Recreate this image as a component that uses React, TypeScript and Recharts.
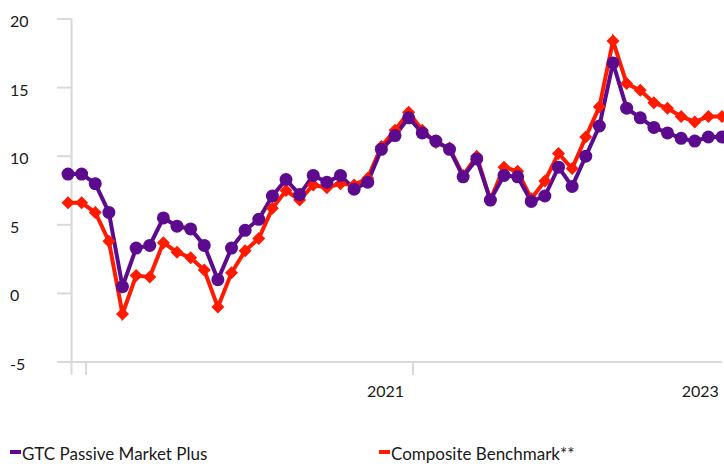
import React from "react";
import { LineChart, Line, XAxis, YAxis, ReferenceLine, Legend } from "recharts";

// monthly observations, Nov 2018 .. Nov 2022
const months = [
  "2018-11", "2018-12",
  "2019-01", "2019-02", "2019-03", "2019-04", "2019-05", "2019-06",
  "2019-07", "2019-08", "2019-09", "2019-10", "2019-11", "2019-12",
  "2020-01", "2020-02", "2020-03", "2020-04", "2020-05", "2020-06",
  "2020-07", "2020-08", "2020-09", "2020-10", "2020-11", "2020-12",
  "2021-01", "2021-02", "2021-03", "2021-04", "2021-05", "2021-06",
  "2021-07", "2021-08", "2021-09", "2021-10", "2021-11", "2021-12",
  "2022-01", "2022-02", "2022-03", "2022-04", "2022-05", "2022-06",
  "2022-07", "2022-08", "2022-09", "2022-10", "2022-11",
];

const gtcPassive = [
  8.7, 8.7, 8.0, 5.9, 0.5, 3.3, 3.5, 5.5, 4.9, 4.7,
  3.5, 1.0, 3.3, 4.6, 5.4, 7.1, 8.3, 7.2, 8.6, 8.1,
  8.6, 7.6, 8.1, 10.5, 11.5, 12.8, 11.7, 11.1, 10.5, 8.5,
  9.8, 6.8, 8.6, 8.5, 6.7, 7.1, 9.2, 7.8, 10.0, 12.2,
  16.8, 13.5, 12.8, 12.1, 11.7, 11.3, 11.1, 11.4, 11.4,
];

const compositeBenchmark = [
  6.6, 6.6, 5.9, 3.8, -1.5, 1.3, 1.2, 3.7, 3.0, 2.6,
  1.7, -1.0, 1.5, 3.1, 4.0, 6.2, 7.5, 6.8, 7.9, 7.7,
  8.0, 7.9, 8.4, 10.7, 11.9, 13.2, 11.9, 11.0, 10.6, 8.6,
  10.0, 6.8, 9.2, 8.9, 6.9, 8.2, 10.2, 9.1, 11.4, 13.6,
  18.4, 15.3, 14.8, 13.9, 13.5, 12.9, 12.5, 12.9, 12.9,
];

const yTicks = [-5, 0, 5, 10, 15, 20];
const yearLabels = ["2021", "2023"];
const seriesNames = ["GTC Passive Market Plus", "Composite Benchmark**"];

const PURPLE = "#5c0b8f";
const RED = "#ff1a00";
const GRID = "#d9d9d9";
const TEXT = "#1a1a1a";
const FONT = "Lato, sans-serif";

// excel-style axis: tick marks sit between months, labels drift left of them
const axisStart = 0.26;
const yearMarks = [axisStart, 1.32, 25.32];
const yearLabelPos = [23.3, 46.4];

const data = months.map((m, i) => ({
  i,
  month: m,
  gtc: gtcPassive[i],
  bench: compositeBenchmark[i],
}));

function YTick(props: any) {
  const { x, y, payload } = props;
  return (
    <g>
      <line x1={x - 11} x2={x + 3.5} y1={y} y2={y} stroke={GRID} strokeWidth={2} />
      <text x={10} y={y} dy={8} textAnchor="start" fill={TEXT} fontSize={16} fontFamily={FONT}>
        {payload.value}
      </text>
    </g>
  );
}

function XTick(props: any) {
  const { x, y, payload } = props;
  const li = yearLabelPos.indexOf(payload.value);
  if (li >= 0) {
    return (
      <text x={x} y={y + 35} textAnchor="middle" fill={TEXT} fontSize={16} fontFamily={FONT}>
        {yearLabels[li]}
      </text>
    );
  }
  return <line x1={x} x2={x} y1={y} y2={y + 13} stroke={GRID} strokeWidth={2} />;
}

function Diamond(props: any) {
  const { cx, cy, index } = props;
  const s = 6.5;
  return (
    <polygon
      key={"d" + index}
      points={`${cx},${cy - s} ${cx + s},${cy} ${cx},${cy + s} ${cx - s},${cy}`}
      fill={RED}
    />
  );
}

function LegendBox() {
  const item = (left: number, color: string, label: string) => (
    <>
      <span style={{ position: "absolute", left, top: 10, width: 11, height: 4, background: color }} />
      <span style={{ position: "absolute", left: left + 12, top: 5, lineHeight: "17px", whiteSpace: "nowrap" }}>
        {label}
      </span>
    </>
  );
  return (
    <div
      style={{
        position: "relative",
        width: 724,
        height: 24,
        overflow: "hidden",
        fontFamily: FONT,
        fontSize: 17,
        color: TEXT,
      }}
    >
      {item(10, PURPLE, seriesNames[0])}
      {item(379, RED, seriesNames[1])}
    </div>
  );
}

export default function App() {
  return (
    <div style={{ position: "absolute", left: 0, top: 0 }}>
      <LineChart width={724} height={464} data={data} margin={{ top: 19, right: 2, left: 0, bottom: 0 }}>
        <XAxis
          type="number"
          dataKey="i"
          domain={[0, 48]}
          ticks={[...yearMarks, ...yearLabelPos]}
          interval={0}
          height={78}
          tickSize={0}
          tickMargin={0}
          tickLine={false}
          axisLine={{ stroke: GRID, strokeWidth: 2 }}
          tick={<XTick />}
        />
        <YAxis
          domain={[-5, 20]}
          ticks={yTicks}
          interval={0}
          width={68}
          tickSize={0}
          tickMargin={0}
          tickLine={false}
          axisLine={false}
          tick={<YTick />}
        />
        <ReferenceLine x={axisStart} stroke={GRID} strokeWidth={2} />
        <Legend verticalAlign="bottom" wrapperStyle={{ left: 0, bottom: 0, width: 724 }} content={<LegendBox />} />
        <Line
          dataKey="bench"
          name={seriesNames[1]}
          stroke={RED}
          strokeWidth={4}
          dot={Diamond}
          activeDot={false}
          isAnimationActive={false}
        />
        <Line
          dataKey="gtc"
          name={seriesNames[0]}
          stroke={PURPLE}
          strokeWidth={4}
          dot={{ r: 6.5, fill: PURPLE, stroke: PURPLE, strokeWidth: 0 }}
          activeDot={false}
          isAnimationActive={false}
        />
      </LineChart>
    </div>
  );
}
